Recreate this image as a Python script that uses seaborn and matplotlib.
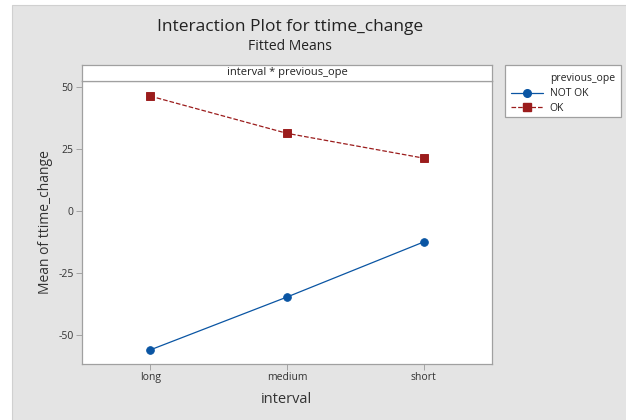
import matplotlib
matplotlib.use("Agg")
import matplotlib.pyplot as plt
import seaborn as sns
import pandas as pd
from matplotlib.patches import Rectangle
from matplotlib.lines import Line2D

intervals = ["long", "medium", "short"]
groups = ["NOT OK", "OK"]
not_ok_means = [-56.0, -34.7, -12.5]
ok_means = [46.3, 31.3, 21.3]
y_ticks = [-50, -25, 0, 25, 50]

df = pd.DataFrame({
    "interval": intervals * 2,
    "previous_ope": [groups[0]] * 3 + [groups[1]] * 3,
    "mean": not_ok_means + ok_means,
})

sns.set_style("white")
plt.rcParams['font.family'] = ['Open Sans', 'DejaVu Sans']

W, H = 626, 420
fig = plt.figure(figsize=(6.26, 4.2), dpi=100, facecolor="white")
bg = Rectangle((12 / W, -0.01), 1, 1 - 5 / H + 0.01, transform=fig.transFigure,
               facecolor="#e4e4e4", edgecolor="#d0d0d0", lw=0.8, zorder=-10)
fig.patches.append(bg)

ax_l, ax_r, ax_t, ax_b = 82, 492, 81, 364
ax = fig.add_axes([ax_l / W, 1 - ax_b / H, (ax_r - ax_l) / W, (ax_b - ax_t) / H])
ax.set_facecolor("white")

palette = {"NOT OK": "#0a55a3", "OK": "#9b1c1c"}
sns.pointplot(data=df, x="interval", y="mean", hue="previous_ope",
              hue_order=groups, order=intervals, palette=palette,
              markers=["o", "s"], linestyles=["-", "--"],
              markersize=5.5, linewidth=0.9, ax=ax, legend=False, errorbar=None)

ax.set_xlim(-0.5, 2.5)
ax.set_ylim(-61.7, 52.4)
ax.set_yticks(y_ticks)
ax.set_yticklabels([str(v) for v in y_ticks], fontsize=7.5, color="#333333")
ax.set_xticks(range(len(intervals)))
ax.set_xticklabels(intervals, fontsize=7.5, color="#333333")
ax.tick_params(axis="both", length=4, width=0.6, color="#999999", direction="out",
               bottom=True, left=True, pad=2)
for s in ax.spines.values():
    s.set_color("#a0a0a0")
    s.set_linewidth(0.9)
ax.set_xlabel("interval", fontsize=10.5, color="#333333", labelpad=6)
ax.set_ylabel("Mean of ttime_change", fontsize=10, color="#333333", labelpad=4)

# strip
sax = fig.add_axes([ax_l / W, 1 - ax_t / H, (ax_r - ax_l) / W, 16 / H])
sax.set_facecolor("white")
sax.set_xticks([]); sax.set_yticks([])
for s in sax.spines.values():
    s.set_color("#a0a0a0")
    s.set_linewidth(0.9)
sax.text(0.5, 0.5, "interval * previous_ope", ha="center", va="center",
         fontsize=8, color="#222222", transform=sax.transAxes)

fig.text(290 / W, 1 - 27 / H, "Interaction Plot for ttime_change", ha="center", va="center",
         fontsize=12.5, color="#222222")
fig.text(290 / W, 1 - 46 / H, "Fitted Means", ha="center", va="center",
         fontsize=10, color="#222222")

# legend
lx0, lx1, ly0, ly1 = 505, 621, 65, 117
frame = Rectangle((lx0 / W, 1 - ly1 / H), (lx1 - lx0) / W, (ly1 - ly0) / H,
                  transform=fig.transFigure, facecolor="white", edgecolor="#a0a0a0",
                  lw=0.9, zorder=1)
fig.patches.append(frame)
fig.text(550 / W, 1 - 78.5 / H, "previous_ope", ha="left", va="center",
         fontsize=7.5, color="#222222", zorder=3)
handles = [Line2D([0], [0], color=palette["NOT OK"], marker="o", ls="-", lw=0.9, markersize=5.5),
           Line2D([0], [0], color=palette["OK"], marker="s", ls="--", lw=0.9, markersize=5.5)]
leg = fig.legend(handles, groups, loc="upper left",
                 bbox_to_anchor=(511 / W, 1 - 88.5 / H), fontsize=7.5,
                 frameon=False, handlelength=3.1, borderpad=0, borderaxespad=0,
                 labelspacing=0.3, handletextpad=0.6)
leg.set_zorder(2)
for t in leg.get_texts():
    t.set_color("#222222")

fig.savefig("out.png", dpi=100, facecolor=fig.get_facecolor())
